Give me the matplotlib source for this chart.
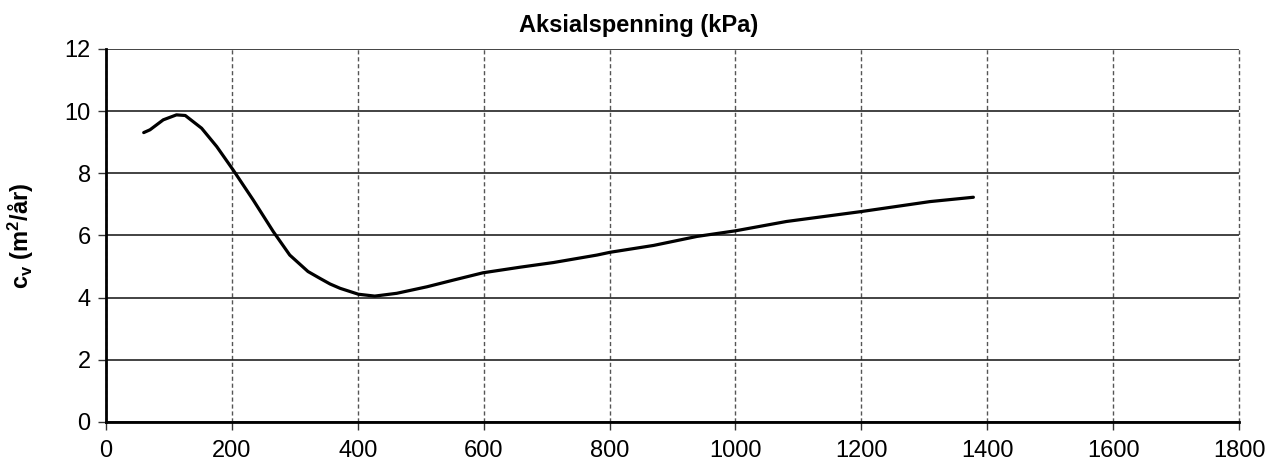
import matplotlib
matplotlib.use("Agg")
import matplotlib.pyplot as plt

plt.rcParams['font.family'] = ['Liberation Sans', 'DejaVu Sans']
plt.rcParams['mathtext.fontset'] = 'custom'
plt.rcParams['mathtext.rm'] = 'Liberation Sans'
plt.rcParams['mathtext.bf'] = 'Liberation Sans:bold'
plt.rcParams['mathtext.default'] = 'bf'

# aksialspenning (kPa) vs cv (m2/år)
stress = [60, 70, 91, 112, 126, 152, 176, 202, 234, 266, 292, 321, 340, 356,
          372, 401, 427, 462, 510, 553, 599, 658, 711, 780, 801, 870, 939,
          1000, 1081, 1200, 1309, 1378]
cv = [9.31, 9.40, 9.72, 9.88, 9.86, 9.45, 8.86, 8.11, 7.14, 6.12, 5.37, 4.84,
      4.62, 4.44, 4.30, 4.11, 4.05, 4.14, 4.35, 4.57, 4.80, 4.98, 5.13, 5.37,
      5.46, 5.68, 5.97, 6.15, 6.45, 6.77, 7.09, 7.23]

xticks = list(range(0, 2000, 200))
yticks = list(range(0, 14, 2))

fig = plt.figure(figsize=(12.78, 4.62), dpi=100)
ax = fig.add_axes([0.0829, 0.0866, 0.8866, 0.8074])

ax.plot(stress, cv, color='black', lw=2.3, solid_capstyle='round',
        solid_joinstyle='round', zorder=3)

ax.set_xlim(0, 1800)
ax.set_ylim(0, 12)
ax.set_xticks(xticks)
ax.set_yticks(yticks)
ax.tick_params(labelsize=17, length=6, width=1, direction='out', colors='#333333',
               labelcolor='black')
ax.tick_params(axis='x', pad=7)
ax.tick_params(axis='y', pad=5)

ax.grid(axis='x', color='#555555', ls=(0, (3, 2)), lw=1)
ax.grid(axis='y', color='#222222', ls='-', lw=1.2)
ax.set_axisbelow(True)
for gl in ax.get_xgridlines():
    gl.set_clip_on(False)

for s in ['top', 'right']:
    ax.spines[s].set_visible(False)
for s in ['left', 'bottom']:
    ax.spines[s].set_linewidth(2)
    ax.spines[s].set_zorder(4)

ax.set_title('Aksialspenning (kPa)', fontsize=17, fontweight='bold', pad=12,
             x=(639 - 106) / 1133)
ax.set_ylabel(r'c$_v$ (m$^2$/år)', fontsize=17, fontweight='bold')
ax.yaxis.set_label_coords(-0.062, 0.5)

fig.savefig('out.png', dpi=100)
